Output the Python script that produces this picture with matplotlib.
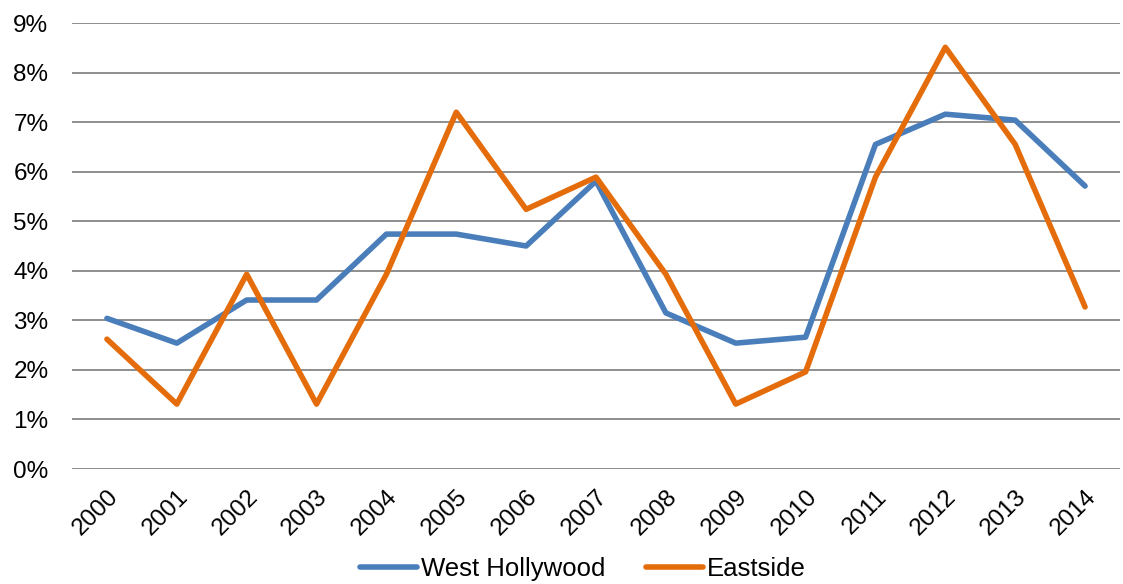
import matplotlib.pyplot as plt
from matplotlib.ticker import PercentFormatter

plt.rcParams['font.family'] = ['Liberation Sans', 'DejaVu Sans']

years = [str(y) for y in range(2000, 2015)]
west_hollywood = [3.04, 2.54, 3.41, 3.41, 4.74, 4.74, 4.50, 5.81,
                  3.15, 2.54, 2.66, 6.55, 7.16, 7.04, 5.71]
eastside = [2.62, 1.31, 3.93, 1.31, 3.93, 7.20, 5.24, 5.89,
            3.93, 1.31, 1.96, 5.89, 8.51, 6.55, 3.27]

fig = plt.figure(figsize=(11.23, 5.84), dpi=100)
ax = fig.add_axes([72 / 1123, 1 - 469 / 584, (1120 - 72) / 1123, (469 - 23) / 584])

x = range(len(years))
ax.plot(x, west_hollywood, color='#4A7EBB', lw=4.0, label='West Hollywood',
        solid_joinstyle='round', solid_capstyle='round')
ax.plot(x, eastside, color='#E46C0A', lw=4.0, label='Eastside',
        solid_joinstyle='round', solid_capstyle='round')

ax.set_xlim(-0.5, len(years) - 0.5)
ax.set_ylim(0, 9)
ax.set_yticks(range(0, 10))
ax.yaxis.set_major_formatter(PercentFormatter(decimals=0))
ax.set_xticks(list(x))
ax.set_xticklabels(years, rotation=45, ha='right', rotation_mode='anchor')
ax.tick_params(axis='both', length=0, labelsize=17.5, colors='black')
ax.tick_params(axis='x', pad=12)
ax.tick_params(axis='y', pad=17)

ax.grid(axis='y', color='#868686', lw=1.3)
ax.set_axisbelow(True)
for s in ax.spines.values():
    s.set_visible(False)

fig.legend(loc='center', bbox_to_anchor=(583 / 1123, 1 - 569 / 584), ncol=2,
           frameon=False, fontsize=18.5, handlelength=2.2, handletextpad=0.15,
           columnspacing=1.6)

fig.savefig('out.png', dpi=100)
